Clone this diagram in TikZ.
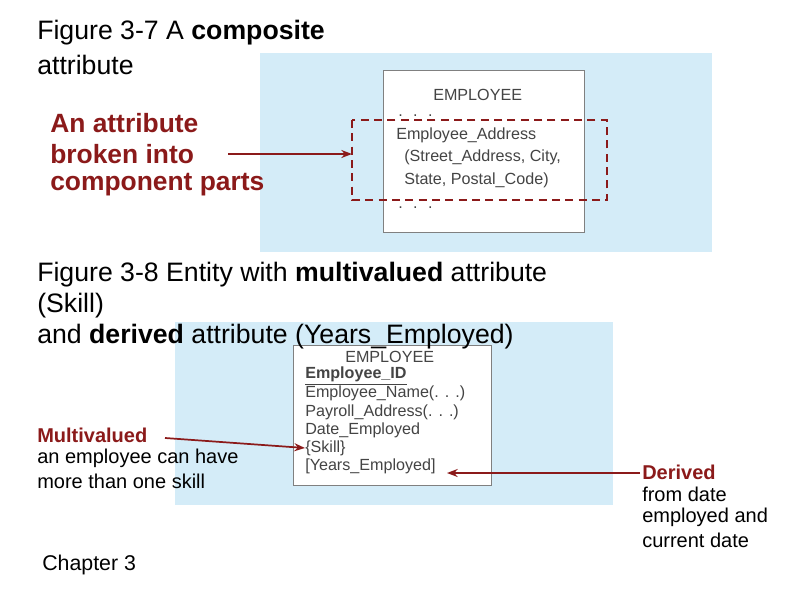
\documentclass[tikz,border=0pt]{standalone}
\usepackage{fontspec}
\setmainfont{Liberation Sans}
\usetikzlibrary{arrows.meta}
\definecolor{bg}{HTML}{D4ECF8}
\definecolor{dred}{HTML}{8B1A1A}
\definecolor{ent}{HTML}{444444}
\begin{document}
\begin{tikzpicture}[x=0.75pt,y=-0.75pt,
  t/.style={anchor=west,inner sep=0pt,font=\fontsize{20}{22}\selectfont},
  rt/.style={t,text=dred,font=\fontsize{19.8}{22}\selectfont\bfseries},
  s/.style={anchor=west,inner sep=0pt,font=\fontsize{15}{17}\selectfont},
  e/.style={anchor=west,inner sep=0pt,text=ent,font=\fontsize{12.1}{15}\selectfont},
  e2/.style={anchor=west,inner sep=0pt,text=ent,font=\fontsize{12.1}{14}\selectfont},
  arr/.style={draw=dred,line width=1.3pt,-{Stealth[length=8pt,width=6pt]}}]
\useasboundingbox (0,0) rectangle (800,600);
% top figure
\node[t] (f1) at (37,33) {Figure 3-7 A \textbf{composite}};
\node[t] (f1b) at (37,65) {attribute};
\fill[bg] (260,53) rectangle (712,252);
\draw[gray,fill=white] (383,70) rectangle (584,232);
\node[e] (h1) at (433,95) {EMPLOYEE};
\node[e] (d1) at (398,116) {. \ . \ .};
\node[e] (a1) at (396,135) {Employee\_Address};
\node[e] (a2) at (404,157) {(Street\_Address, City,};
\node[e] (a3) at (404,180) {State, Postal\_Code)};
\node[e] (d2) at (398,208) {. \ . \ .};
\draw[dred,line width=1.3pt,dash pattern=on 6pt off 4pt] (352,120) rectangle (607,200);
\coordinate (dl) at (352,154);
\node[rt] (r1) at (50,123) {An attribute};
\node[rt] (r2) at (50,154) {broken into};
\node[rt] (r3) at (50,185) {component parts};
\coordinate (as) at (228,154);
\draw[arr] (as) -- (dl);
% second figure
\node[t] (f2) at (37,275) {Figure 3-8 Entity with \textbf{multivalued} attribute};
\node[t] (f2b) at (37,306) {(Skill)};
\fill[bg] (175,322) rectangle (613,505);
\draw[gray,fill=white] (293,345) rectangle (491,485);
\node[t] (f2c) at (37,337) {and \textbf{derived} attribute (Years\_Employed)};
\node[e2] (h2) at (345,357) {EMPLOYEE};
\node[e2,font=\fontsize{12.1}{14}\selectfont\bfseries] (b1) at (305,376) {\underline{Employee\_ID}};
\node[e2] (b2) at (305,393) {Employee\_Name(. . .)};
\node[e2] (b3) at (305,412) {Payroll\_Address(. . .)};
\node[e2] (b4) at (305,430) {Date\_Employed};
\node[e2] (b5) at (305,448) {\{Skill\}};
\node[e2] (b6) at (305,466) {[Years\_Employed]};
\node[s,text=dred,font=\fontsize{15}{17}\selectfont\bfseries] (m1) at (37,435) {Multivalued};
\node[s] (m2) at (37,458) {an employee can have};
\node[s] (m3) at (37,481) {more than one skill};
\coordinate (ms) at (165,438);
\draw[arr] (ms) -- (b5.west);
\node[s,text=dred,font=\fontsize{15}{17}\selectfont\bfseries] (dd1) at (642,472) {Derived};
\node[s] (dd2) at (642,494) {from date};
\node[s] (dd3) at (642,517) {employed and};
\node[s] (dd4) at (642,540) {current date};
\coordinate (ds) at (640,473);
\draw[arr] (ds) -- (447,473);
\node[s,font=\fontsize{16}{18}\selectfont] (ch) at (42,565) {Chapter 3};
\end{tikzpicture}
\end{document}
